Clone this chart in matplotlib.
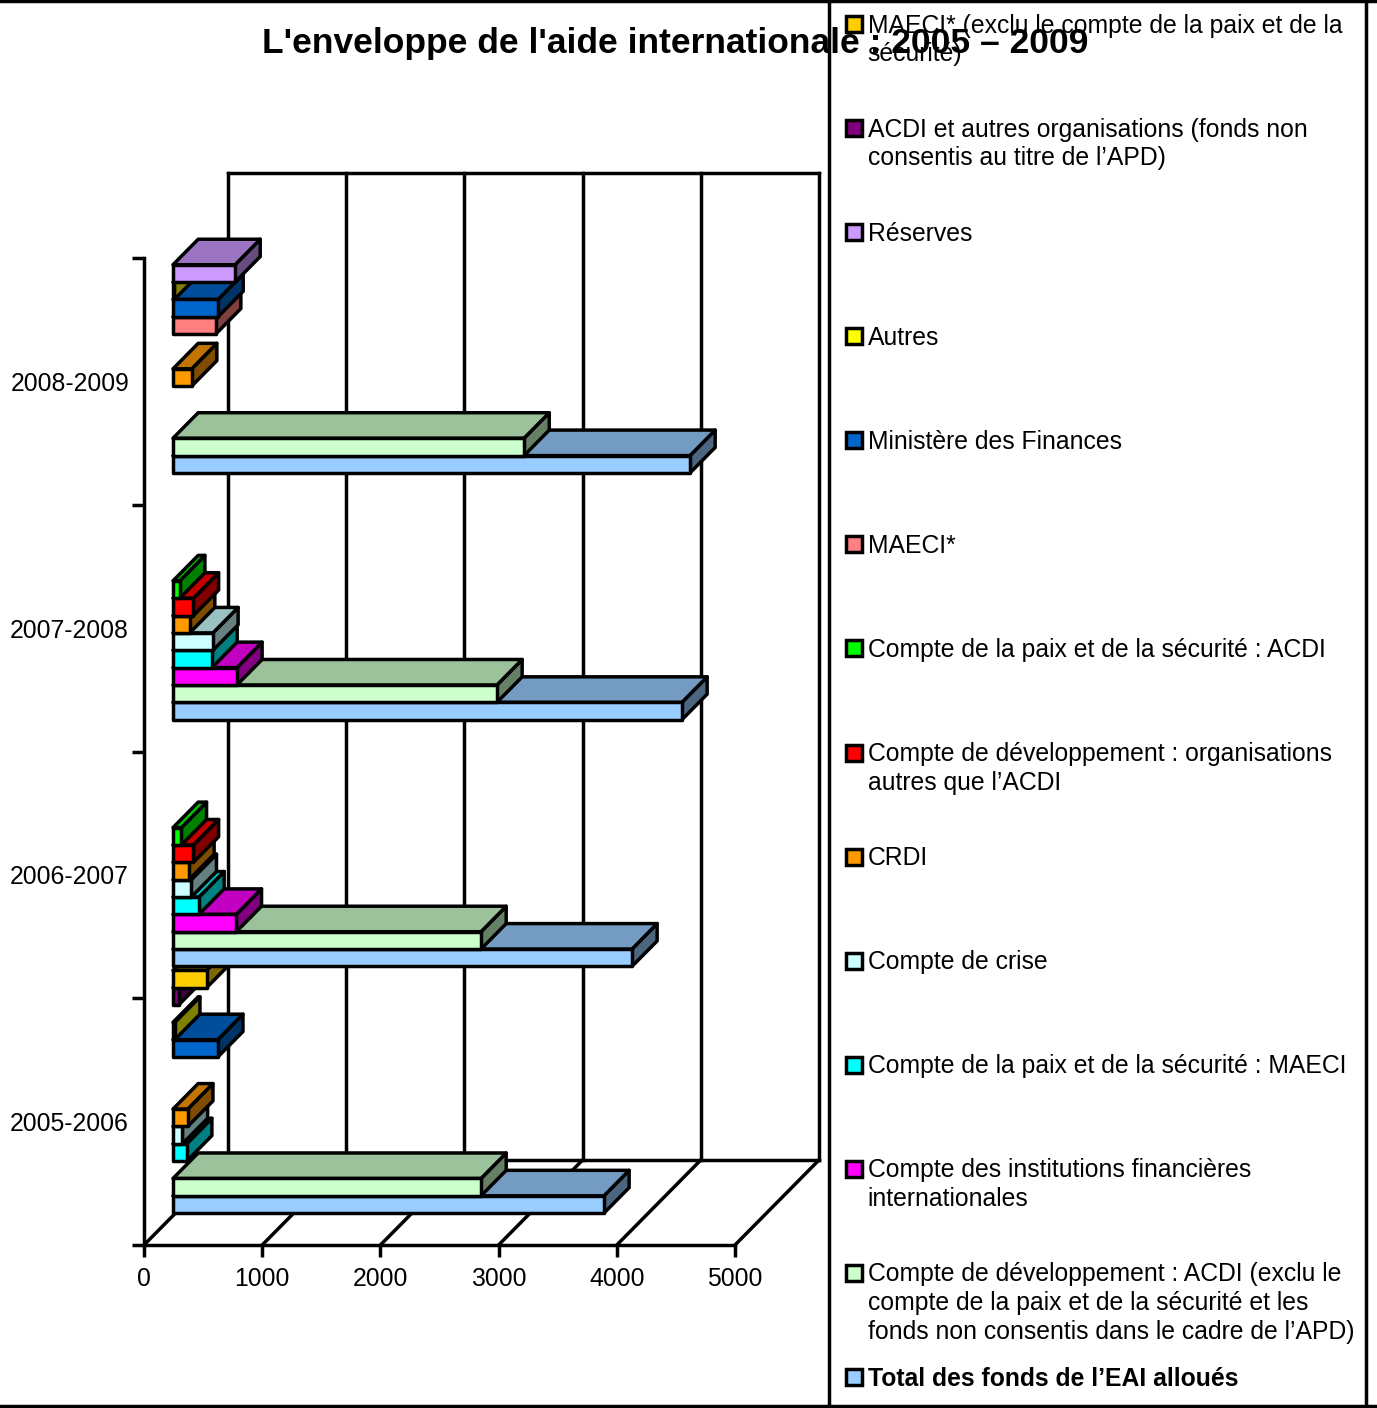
import matplotlib
matplotlib.use('Agg')
import matplotlib.pyplot as plt
from matplotlib.patches import Polygon, Rectangle

plt.rcParams['font.family'] = ['Liberation Sans', 'DejaVu Sans']

years = ['2005-2006', '2006-2007', '2007-2008', '2008-2009']

# bottom to top inside each year, None = no bar
total = [3646, 3883, 4306, 4374]
dev_acdi = [2606, 2606, 2741, 2970]
ifi = [None, 536, 541, None]
paix_maeci = [116, 220, 330, None]
crise = [80, 155, 338, None]
crdi = [125, 135, 141, 158]
dev_autres = [None, 173, 173, None]
paix_acdi = [None, 71, 57, None]
maeci = [None, None, None, 361]
finances = [379, None, None, 381]
autres = [15, None, None, 12]
reserves = [None, None, None, 525]
acdi_autres = [48, None, None, None]
maeci_excl = [285, None, None, None]

series = [total, dev_acdi, ifi, paix_maeci, crise, crdi, dev_autres, paix_acdi,
          maeci, finances, autres, reserves, acdi_autres, maeci_excl]
colors = ['#99CCFF', '#CCFFCC', '#FF00FF', '#00FFFF', '#CCFFFF', '#FF9900', '#FF0000',
          '#00FF00', '#FF8080', '#0066CC', '#FFFF00', '#CC99FF', '#800080', '#FFCC00']

# legend is listed top to bottom, so reversed compared to the bars
legend_labels = [
    'MAECI* (exclu le compte de la paix et de la\nsécurité)',
    'ACDI et autres organisations (fonds non\nconsentis au titre de l’APD)',
    'Réserves',
    'Autres',
    'Ministère des Finances',
    'MAECI*',
    'Compte de la paix et de la sécurité : ACDI',
    'Compte de développement : organisations\nautres que l’ACDI',
    'CRDI',
    'Compte de crise',
    'Compte de la paix et de la sécurité : MAECI',
    'Compte des institutions financières\ninternationales',
    'Compte de développement : ACDI (exclu le\ncompte de la paix et de la sécurité et les\nfonds non consentis dans le cadre de l’APD)',
    'Total des fonds de l’EAI alloués',
]

W, H = 1377, 1408
LW = 2.5

# oblique projection of the 3d box, in data units
DEPTH_X = 84 / 0.1182
DEPTH_Y = 85 / 246.75
BAR_FRONT = 0.345
BAR_BACK = 0.645
SLOT = 17.35 / 246.75
BASE = 2.5 / 246.75


def project(value, y, depth):
    return (value + depth * DEPTH_X, y + depth * DEPTH_Y)


def shade(color, factor):
    rgb = matplotlib.colors.to_rgb(color)
    return tuple(c * factor for c in rgb)


def draw_face(ax, points, color, z):
    ax.add_patch(Polygon(points, closed=True, facecolor=color, edgecolor='black', linewidth=LW,
                         joinstyle='round', clip_on=False, zorder=z))


def draw_bar(ax, value, y0, y1, color, z):
    a = BAR_FRONT
    b = BAR_BACK
    draw_face(ax, [project(value, y0, a), project(value, y0, b), project(value, y1, b), project(value, y1, a)],
              shade(color, 0.5), z)
    draw_face(ax, [project(0, y1, a), project(value, y1, a), project(value, y1, b), project(0, y1, b)],
              shade(color, 0.76), z)
    draw_face(ax, [project(0, y0, a), project(value, y0, a), project(value, y1, a), project(0, y1, a)],
              color, z)


fig = plt.figure(figsize=(W / 100, H / 100), dpi=100)
ax = fig.add_axes([144 / W, (H - 1245) / H, 591 / W, 987 / H])
ax.set_xlim(0, 5000)
ax.set_ylim(0, 4)
ax.patch.set_visible(False)
ax.spines['top'].set_visible(False)
ax.spines['right'].set_visible(False)
ax.spines['left'].set_linewidth(LW)
ax.spines['bottom'].set_linewidth(LW)

ax.set_xticks(range(0, 5001, 1000))
ax.set_yticks(range(5))
ax.set_yticklabels([])
ax.set_yticks([i + 0.5 for i in range(4)], labels=years, minor=True)
ax.tick_params(axis='both', which='major', length=8.6, width=LW, labelsize=17.8)
ax.tick_params(axis='x', pad=7.5)
ax.tick_params(axis='y', which='minor', length=0, pad=10.8, labelsize=17.8)

# back wall and floor
for v in range(0, 5001, 1000):
    ax.plot(*zip(project(v, 0, 0), project(v, 0, 1)), color='black', lw=LW, clip_on=False, zorder=1)
    ax.plot(*zip(project(v, 0, 1), project(v, 4, 1)), color='black', lw=LW, clip_on=False, zorder=1)
ax.plot(*zip(project(0, 0, 1), project(5000, 0, 1)), color='black', lw=LW, clip_on=False, zorder=1)
ax.plot(*zip(project(0, 4, 1), project(5000, 4, 1)), color='black', lw=LW, clip_on=False, zorder=1)

# bars go from the bottom up, each one hides the top of the one below
z = 3
for c in range(len(years)):
    for k, values in enumerate(series):
        if values[c] is not None:
            y0 = c + BASE + k * SLOT
            draw_bar(ax, values[c], y0, y0 + SLOT, colors[k], z)
        z += 1

# overlay in pixels for frame, legend, title
over = fig.add_axes([0, 0, 1, 1], zorder=5)
over.set_xlim(0, W)
over.set_ylim(H, 0)
over.axis('off')

over.plot([0, W], [0.5, 0.5], color='black', lw=LW)
over.plot([0, W], [1406, 1406], color='black', lw=LW)
over.plot([829, 829], [0, 1406], color='black', lw=LW)
over.plot([1366, 1366], [0, 1406], color='black', lw=LW)

legend_colors = colors[::-1]
for i, label in enumerate(legend_labels):
    y = 24 + i * 104.08
    over.add_patch(Rectangle((846, y - 8), 15.5, 16, facecolor=legend_colors[i], edgecolor='black', linewidth=LW))
    weight = 'bold' if label.startswith('Total') else 'normal'
    for n, line in enumerate(label.split('\n')):
        over.text(867.5, y + 1.5 + n * 28.9, line, fontsize=17.85, fontweight=weight, va='center', ha='left')

over.text(675.5, 44, "L'enveloppe de l'aide internationale : 2005 – 2009", fontsize=25.45, fontweight='bold',
          ha='center', va='center')

fig.savefig('out.png', dpi=100)
